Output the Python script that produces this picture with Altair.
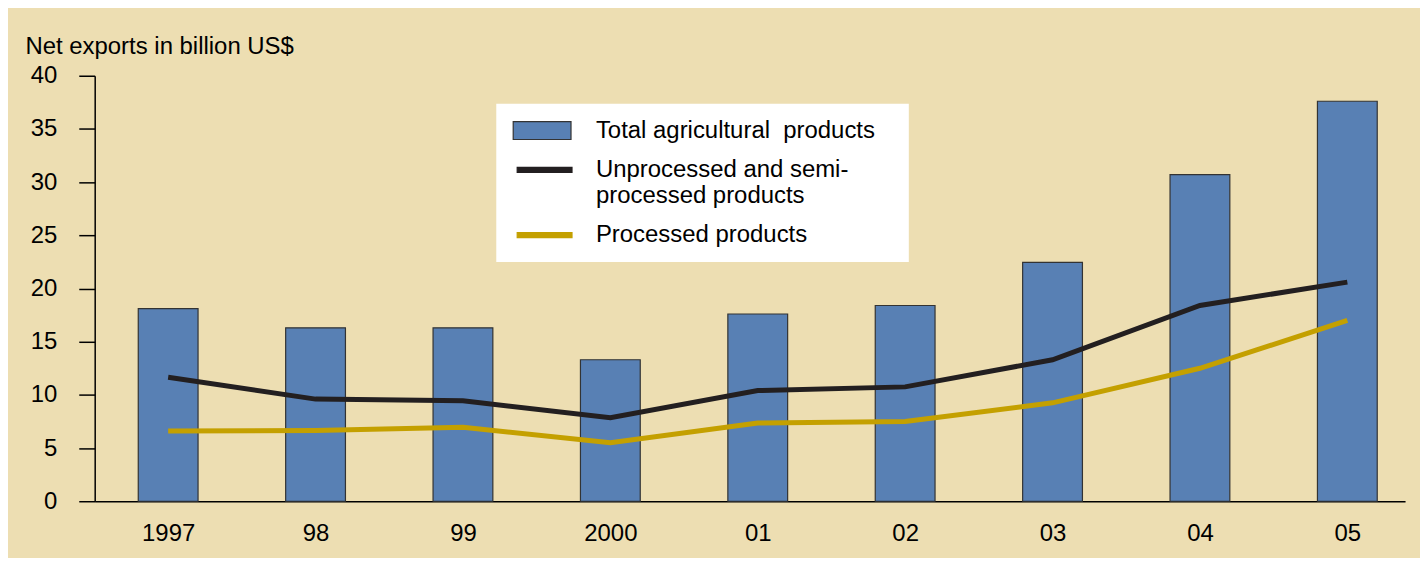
import altair as alt
import pandas as pd

years = ["1997", "98", "99", "2000", "01", "02", "03", "04", "05"]
total = [18.1, 16.3, 16.3, 13.3, 17.6, 18.4, 22.45, 30.7, 37.6]
unprocessed = [11.65, 9.6, 9.45, 7.85, 10.4, 10.75, 13.3, 18.4, 20.6]
processed = [6.6, 6.65, 6.95, 5.5, 7.35, 7.5, 9.25, 12.5, 17.0]

series = ["Total agricultural\u00a0 products",
          "Unprocessed and semi-processed products",
          "Processed products"]
colors = ["#5880B4", "#231F20", "#C4A000"]
edge_colors = ["#333333", "#231F20", "#C4A000"]

rows = []
for name, vals in zip(series, [total, unprocessed, processed]):
    for y, v in zip(years, vals):
        rows.append({"year": y, "value": v, "series": name})
df = pd.DataFrame(rows)

FONT = "Liberation Sans"
FS = 24

x_enc = alt.X("year:N", sort=years,
              scale=alt.Scale(type="point", padding=0.445, align=0.56),
              axis=alt.Axis(title=None, labelAngle=0, ticks=False,
                            labelFontSize=FS, labelPadding=20,
                            labelColor="black", domainColor="black",
                            domainWidth=1.5, labelFont=FONT))
y_enc = alt.Y("value:Q",
              scale=alt.Scale(domain=[0, 40], nice=False),
              axis=alt.Axis(title="Net exports in billion US$",
                            values=list(range(0, 41, 5)), grid=False,
                            tickSize=16, tickColor="black", tickWidth=1.5,
                            domainColor="black", domainWidth=1.5,
                            labelFontSize=FS, labelPadding=22,
                            labelColor="black", labelFont=FONT,
                            titleAngle=0, titleAlign="left",
                            titleBaseline="alphabetic", titleX=-70, titleY=-22,
                            titleFontSize=FS, titleFontWeight="normal",
                            titleFont=FONT, titleColor="black"))

# legend symbol shapes (unit = 10 px with symbolSize 400)
rect_path = "M-1,-0.9H4.8V0.9H-1Z"
line_path = "M-0.6,-0.25H4.9V0.25H-0.6Z"
shapes = [rect_path, line_path, line_path]

legend = alt.Legend(
    title=None, orient="none", legendX=403, legendY=28,
    fillColor="white", padding=15, rowPadding=15.5,
    labelFont=FONT, labelFontSize=FS, labelColor="black",
    labelLimit=0, labelOffset=61, symbolSize=400,
    symbolStrokeWidth=1.2, symbolOpacity=1,
    labelExpr=("datum.label === 'Unprocessed and semi-processed products' ? "
               "['Unprocessed and semi-', 'processed products'] : "
               "(indexof(datum.label, 'Total') === 0 ? datum.label + '\u2800' : datum.label)"),
)

bars = alt.Chart(df).transform_filter(
    alt.datum.series == series[0]
).mark_bar(size=60, color=colors[0], stroke="#333333", strokeWidth=1.2,
           opacity=1).encode(x=x_enc, y=y_enc)

lines = alt.Chart(df).transform_filter(
    alt.datum.series != series[0]
).mark_line(strokeWidth=5, strokeCap="butt").encode(
    x=x_enc, y=y_enc,
    color=alt.Color("series:N", scale=alt.Scale(domain=series[1:], range=colors[1:]),
                    legend=None),
)

legend_layer = alt.Chart(df).transform_filter("false").mark_point(
    filled=True, opacity=1
).encode(
    x=x_enc, y=y_enc,
    fill=alt.Fill("series:N", scale=alt.Scale(domain=series, range=colors), legend=legend),
    stroke=alt.Stroke("series:N", scale=alt.Scale(domain=series, range=edge_colors), legend=legend),
    shape=alt.Shape("series:N", scale=alt.Scale(domain=series, range=shapes), legend=legend),
)

chart = alt.layer(bars, lines, legend_layer).properties(
    width=1315, height=427,
    background="#EDDEB2",
    autosize=alt.AutoSizeParams(type="none"),
    padding={"left": 87, "top": 67, "right": 15, "bottom": 56},
).configure_view(stroke=None)

chart.save("out.html", embed_options={"renderer": "svg", "actions": False})
